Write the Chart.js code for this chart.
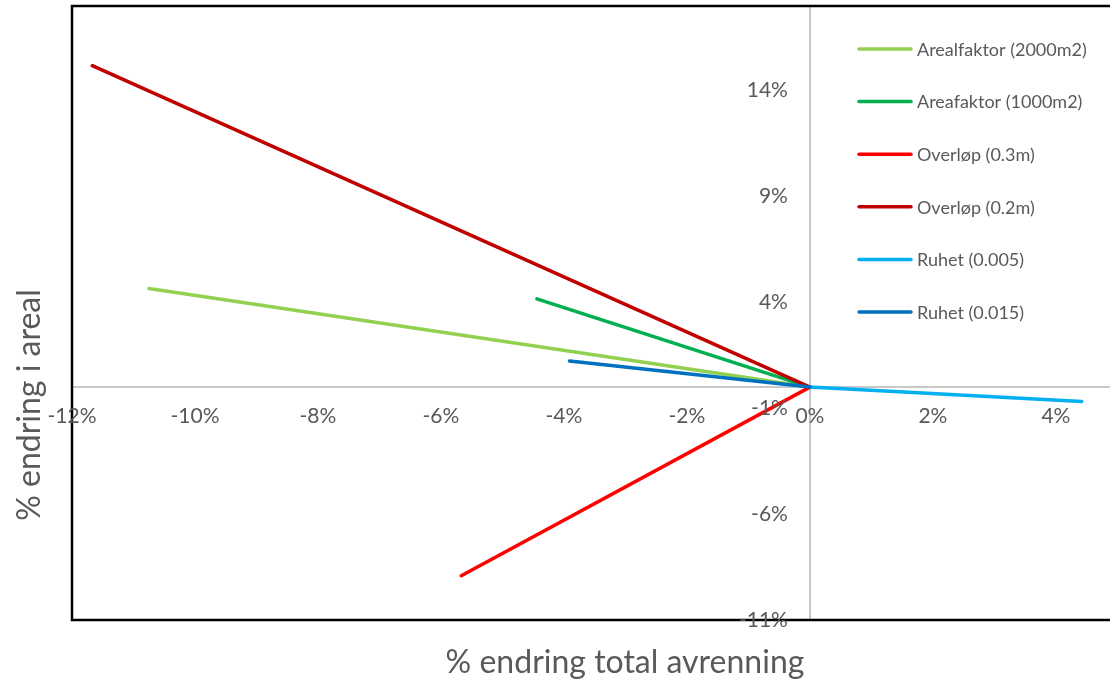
<!DOCTYPE html>
<html>
<head>
<meta charset="utf-8">
<script src="https://cdn.jsdelivr.net/npm/chart.js@4/dist/chart.umd.min.js"></script>
<style>
  html, body { margin: 0; padding: 0; background: #fff; overflow: hidden; }
  #wrap { width: 1110px; height: 682px; position: relative; }
</style>
</head>
<body>
<div id="wrap"><canvas id="c"></canvas></div>
<script>
// Series: % change in total runoff (x) vs % change in area (y)
const seriesNames = ['Arealfaktor (2000m2)', 'Areafaktor (1000m2)', 'Overløp (0.3m)', 'Overløp (0.2m)', 'Ruhet (0.005)', 'Ruhet (0.015)'];
const seriesColors = ['#92D050', '#00B050', '#FF0000', '#C00000', '#00B0F0', '#0070C0'];

const areal2000X = [0, -10.75];
const areal2000Y = [0, 4.66];
const areal1000X = [0, -4.44];
const areal1000Y = [0, 4.17];
const overlop03X = [0, -5.67];
const overlop03Y = [0, -8.91];
const overlop02X = [0, -11.67];
const overlop02Y = [0, 15.18];
const ruhet0005X = [0, 4.42];
const ruhet0005Y = [0, -0.68];
const ruhet0015X = [0, -3.91];
const ruhet0015Y = [0, 1.23];

const seriesX = [areal2000X, areal1000X, overlop03X, overlop02X, ruhet0005X, ruhet0015X];
const seriesY = [areal2000Y, areal1000Y, overlop03Y, overlop02Y, ruhet0005Y, ruhet0015Y];

// Axis ticks and labels
const xTicks = [-12, -10, -8, -6, -4, -2, 0, 2, 4];
const xTickLabels = ['-12%', '-10%', '-8%', '-6%', '-4%', '-2%', '0%', '2%', '4%'];
const yTicks = [-11, -6, -1, 4, 9, 14];
const yTickLabels = ['-11%', '-6%', '-1%', '4%', '9%', '14%'];

const xTitle = '% endring total avrenning';
const yTitle = '% endring i areal';

const FONT = 'Lato, "Open Sans", sans-serif';
const TEXT = '#595959';

const datasets = seriesNames.map((name, i) => ({
  label: name,
  data: seriesX[i].map((x, k) => ({ x: x, y: seriesY[i][k] })),
  borderColor: seriesColors[i],
  backgroundColor: seriesColors[i],
  borderWidth: 3.5,
  borderCapStyle: 'round',
  borderJoinStyle: 'round',
  pointRadius: 0,
  showLine: true,
  fill: false,
  order: seriesNames.length - i
}));

const decor = {
  id: 'decor',
  afterDraw(chart) {
    const ctx = chart.ctx;
    const area = chart.chartArea;
    const xs = chart.scales.x;
    const ys = chart.scales.y;
    ctx.save();

    // plot-area frame (top, left, bottom)
    ctx.strokeStyle = '#000';
    ctx.lineWidth = 2.5;
    ctx.beginPath();
    ctx.moveTo(chart.width + 2, area.top);
    ctx.lineTo(area.left, area.top);
    ctx.lineTo(area.left, area.bottom);
    ctx.lineTo(chart.width + 2, area.bottom);
    ctx.stroke();

    // tick labels next to the axes
    ctx.fillStyle = TEXT;
    ctx.font = '21px ' + FONT;
    ctx.textAlign = 'center';
    ctx.textBaseline = 'middle';
    const y0 = ys.getPixelForValue(0);
    xTicks.forEach((v, i) => {
      ctx.fillText(xTickLabels[i], xs.getPixelForValue(v), y0 + 29);
    });
    ctx.textAlign = 'right';
    const x0 = xs.getPixelForValue(0);
    yTicks.forEach((v, i) => {
      ctx.fillText(yTickLabels[i], x0 - 22, ys.getPixelForValue(v));
    });

    // legend
    ctx.font = '18px ' + FONT;
    ctx.textAlign = 'left';
    ctx.lineCap = 'round';
    ctx.lineWidth = 3.5;
    seriesNames.forEach((name, i) => {
      const cy = 49 + i * 52.6;
      ctx.strokeStyle = seriesColors[i];
      ctx.beginPath();
      ctx.moveTo(859, cy);
      ctx.lineTo(911, cy);
      ctx.stroke();
      ctx.fillText(name, 917, cy + 1);
    });

    // axis titles
    ctx.font = '32px ' + FONT;
    ctx.textAlign = 'center';
    ctx.fillText(xTitle, 625, 663);
    ctx.translate(30, 405);
    ctx.rotate(-Math.PI / 2);
    ctx.fillText(yTitle, 0, 0);
    ctx.restore();
  }
};

new Chart(document.getElementById('c'), {
  type: 'scatter',
  data: { datasets: datasets },
  options: {
    responsive: true,
    maintainAspectRatio: false,
    animation: false,
    layout: { padding: { left: 72, top: 6, right: 0, bottom: 62 } },
    plugins: { legend: { display: false }, tooltip: { enabled: false }, title: { display: false } },
    scales: {
      x: {
        type: 'linear', min: -12, max: 4.88,
        position: { y: 0 },
        afterBuildTicks: s => { s.ticks = xTicks.map(v => ({ value: v })); },
        ticks: { display: false },
        grid: { drawOnChartArea: false, drawTicks: false, color: 'rgba(0,0,0,0)' },
        border: { display: true, color: '#C8C8C8', width: 2 }
      },
      y: {
        type: 'linear', min: -11, max: 18,
        position: { x: 0 },
        afterBuildTicks: s => { s.ticks = yTicks.map(v => ({ value: v })); },
        ticks: { display: false },
        grid: { drawOnChartArea: false, drawTicks: false, color: 'rgba(0,0,0,0)' },
        border: { display: true, color: '#C8C8C8', width: 2 }
      }
    }
  },
  plugins: [decor]
});
</script>
</body>
</html>
